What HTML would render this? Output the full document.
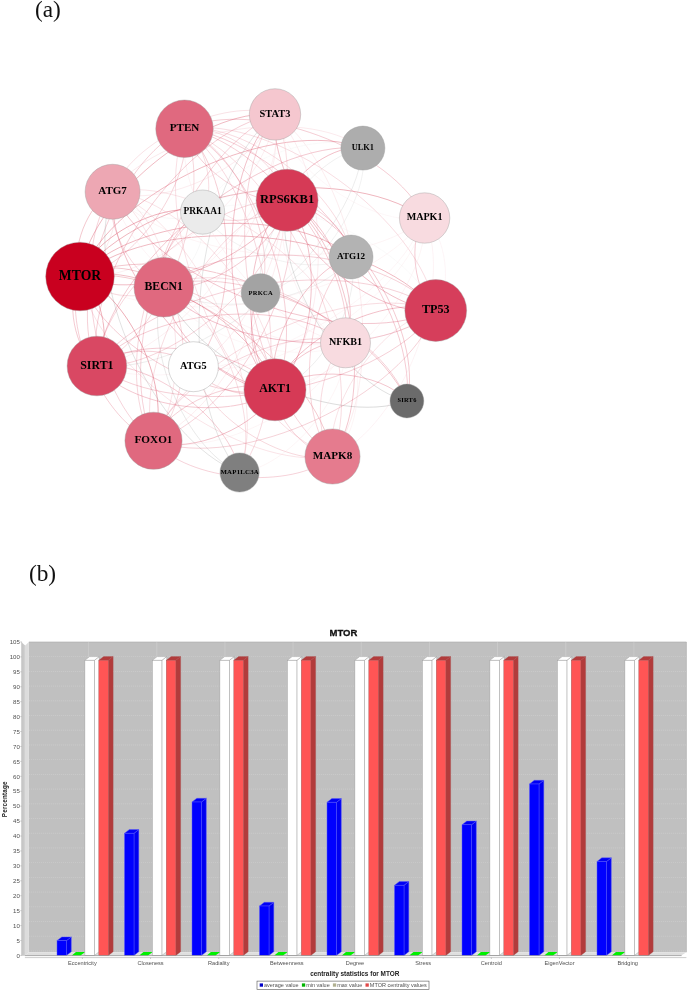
<!DOCTYPE html>
<html lang="en"><head><meta charset="utf-8"><title>MTOR network and centrality statistics</title>
<style>html,body{margin:0;padding:0;background:#fff}svg{display:block}.nl{font-family:"Liberation Serif", serif;font-weight:bold;fill:#000;text-anchor:middle}.sa{font-family:"Liberation Sans", sans-serif;fill:#505050}</style></head><body>
<svg width="688" height="992" viewBox="0 0 688 992">
<rect width="688" height="992" fill="#fff"/>
<text x="34.9" y="16.9" font-family='"Liberation Serif", serif' font-size="23.3" fill="#111">(a)</text>
<text x="28.9" y="580.6" font-family='"Liberation Serif", serif' font-size="23.3" fill="#111">(b)</text>
<g fill="none" stroke-width="0.5">
<path d="M184.5 128.8C193.6 181.7 133.0 267.4 80.0 276.5" stroke="rgba(224,105,127,0.57)"/>
<path d="M80.0 276.5C86.9 201.5 200.0 107.5 275.0 114.4" stroke="rgba(201,0,31,0.55)"/>
<path d="M275.0 114.4C268.1 189.4 155.0 283.4 80.0 276.5" stroke="rgba(245,199,207,0.55)"/>
<path d="M80.0 276.5C112.4 190.1 276.5 115.7 362.9 148.1" stroke="rgba(201,0,31,0.55)"/>
<path d="M80.0 276.5C69.0 251.9 88.0 202.7 112.6 191.8" stroke="rgba(201,0,31,0.44)"/>
<path d="M112.6 191.8C123.6 216.4 104.6 265.5 80.0 276.5" stroke="rgba(237,167,179,0.44)"/>
<path d="M80.0 276.5C92.2 237.2 163.3 199.9 202.6 212.1" stroke="rgba(201,0,31,0.63)"/>
<path d="M287.1 200.2C259.6 259.8 139.5 304.0 80.0 276.5" stroke="rgba(214,58,86,0.68)"/>
<path d="M80.0 276.5C140.1 191.8 339.9 157.9 424.6 218.0" stroke="rgba(201,0,31,0.58)"/>
<path d="M424.6 218.0C364.5 302.7 164.7 336.6 80.0 276.5" stroke="rgba(248,219,224,0.58)"/>
<path d="M80.0 276.5C132.8 215.5 290.1 204.2 351.1 257.0" stroke="rgba(201,0,31,0.56)"/>
<path d="M80.0 276.5C99.8 261.2 148.4 267.4 163.8 287.2" stroke="rgba(201,0,31,0.43)"/>
<path d="M163.8 287.2C143.9 302.6 95.3 296.3 80.0 276.5" stroke="rgba(224,105,127,0.43)"/>
<path d="M80.0 276.5C161.8 208.9 368.2 228.7 435.8 310.5" stroke="rgba(201,0,31,0.55)"/>
<path d="M80.0 276.5C102.3 291.7 112.1 343.7 96.9 366.0" stroke="rgba(201,0,31,0.59)"/>
<path d="M96.9 366.0C74.6 350.8 64.8 298.8 80.0 276.5" stroke="rgba(217,72,99,0.59)"/>
<path d="M193.4 366.7C150.6 371.6 84.9 319.3 80.0 276.5" stroke="rgba(255,255,255,0.68)"/>
<path d="M80.0 276.5C144.7 259.3 257.8 325.0 275.0 389.8" stroke="rgba(201,0,31,0.50)"/>
<path d="M275.0 389.8C210.3 406.9 97.2 341.2 80.0 276.5" stroke="rgba(214,58,86,0.50)"/>
<path d="M80.0 276.5C174.8 234.0 364.4 306.2 406.9 401.0" stroke="rgba(201,0,31,0.44)"/>
<path d="M80.0 276.5C129.9 295.6 172.6 390.8 153.5 440.8" stroke="rgba(201,0,31,0.64)"/>
<path d="M153.5 440.8C103.6 421.7 60.9 326.4 80.0 276.5" stroke="rgba(224,105,127,0.64)"/>
<path d="M80.0 276.5C170.8 261.3 317.3 365.7 332.5 456.5" stroke="rgba(201,0,31,0.42)"/>
<path d="M332.5 456.5C241.7 471.7 95.2 367.3 80.0 276.5" stroke="rgba(229,123,142,0.42)"/>
<path d="M184.5 128.8C205.8 142.5 216.3 190.8 202.6 212.1" stroke="rgba(224,105,127,0.44)"/>
<path d="M184.5 128.8C221.1 122.2 280.6 163.7 287.1 200.2" stroke="rgba(224,105,127,0.49)"/>
<path d="M287.1 200.2C250.5 206.8 191.0 165.3 184.5 128.8" stroke="rgba(214,58,86,0.49)"/>
<path d="M184.5 128.8C253.7 97.1 392.9 148.8 424.6 218.0" stroke="rgba(224,105,127,0.67)"/>
<path d="M184.5 128.8C246.4 120.7 343.0 195.1 351.1 257.0" stroke="rgba(224,105,127,0.48)"/>
<path d="M184.5 128.8C235.0 147.3 279.1 242.6 260.6 293.1" stroke="rgba(224,105,127,0.57)"/>
<path d="M184.5 128.8C275.4 114.2 421.2 219.6 435.8 310.5" stroke="rgba(224,105,127,0.45)"/>
<path d="M184.5 128.8C215.9 197.0 165.1 334.6 96.9 366.0" stroke="rgba(224,105,127,0.53)"/>
<path d="M96.9 366.0C65.5 297.8 116.3 160.2 184.5 128.8" stroke="rgba(217,72,99,0.53)"/>
<path d="M184.5 128.8C236.3 176.9 241.5 314.9 193.4 366.7" stroke="rgba(224,105,127,0.67)"/>
<path d="M184.5 128.8C263.3 139.9 356.6 264.0 345.5 342.8" stroke="rgba(224,105,127,0.65)"/>
<path d="M345.5 342.8C266.7 331.7 173.4 207.5 184.5 128.8" stroke="rgba(248,219,224,0.65)"/>
<path d="M184.5 128.8C258.3 164.6 310.8 315.9 275.0 389.8" stroke="rgba(224,105,127,0.64)"/>
<path d="M184.5 128.8C288.4 139.2 417.4 297.1 406.9 401.0" stroke="rgba(224,105,127,0.68)"/>
<path d="M184.5 128.8C268.3 189.4 300.2 388.7 239.6 472.5" stroke="rgba(224,105,127,0.50)"/>
<path d="M184.5 128.8C284.4 166.5 370.2 356.6 332.5 456.5" stroke="rgba(224,105,127,0.48)"/>
<path d="M332.5 456.5C232.6 418.8 146.8 228.7 184.5 128.8" stroke="rgba(229,123,142,0.48)"/>
<path d="M275.0 114.4C257.1 164.7 162.9 209.6 112.6 191.8" stroke="rgba(245,199,207,0.67)"/>
<path d="M112.6 191.8C130.5 141.4 224.7 96.5 275.0 114.4" stroke="rgba(237,167,179,0.67)"/>
<path d="M424.6 218.0C371.4 227.7 284.7 167.6 275.0 114.4" stroke="rgba(248,219,224,0.46)"/>
<path d="M275.0 114.4C287.9 174.1 223.4 274.3 163.8 287.2" stroke="rgba(245,199,207,0.47)"/>
<path d="M435.8 310.5C360.8 303.1 267.6 189.3 275.0 114.4" stroke="rgba(214,62,91,0.67)"/>
<path d="M275.0 114.4C290.4 204.6 187.1 350.6 96.9 366.0" stroke="rgba(245,199,207,0.53)"/>
<path d="M96.9 366.0C81.5 275.8 184.8 129.8 275.0 114.4" stroke="rgba(217,72,99,0.53)"/>
<path d="M275.0 114.4C310.8 184.5 263.5 330.9 193.4 366.7" stroke="rgba(245,199,207,0.67)"/>
<path d="M193.4 366.7C157.6 296.6 204.9 150.2 275.0 114.4" stroke="rgba(255,255,255,0.67)"/>
<path d="M275.0 114.4C332.8 172.2 332.8 331.9 275.0 389.8" stroke="rgba(245,199,207,0.63)"/>
<path d="M275.0 389.8C217.2 331.9 217.2 172.2 275.0 114.4" stroke="rgba(214,58,86,0.63)"/>
<path d="M275.0 114.4C318.0 208.4 247.5 397.7 153.5 440.8" stroke="rgba(245,199,207,0.61)"/>
<path d="M153.5 440.8C110.5 346.7 181.0 157.4 275.0 114.4" stroke="rgba(224,105,127,0.61)"/>
<path d="M239.6 472.5C171.8 389.9 192.4 182.2 275.0 114.4" stroke="rgba(127,127,127,0.42)"/>
<path d="M275.0 114.4C358.9 174.2 392.3 372.6 332.5 456.5" stroke="rgba(245,199,207,0.66)"/>
<path d="M332.5 456.5C248.6 396.7 215.2 198.3 275.0 114.4" stroke="rgba(229,123,142,0.66)"/>
<path d="M112.6 191.8C156.0 130.0 301.2 104.7 362.9 148.1" stroke="rgba(237,167,179,0.49)"/>
<path d="M202.6 212.1C222.8 165.0 315.8 127.9 362.9 148.1" stroke="rgba(235,235,235,0.52)"/>
<path d="M287.1 200.2C292.1 173.4 336.0 143.1 362.9 148.1" stroke="rgba(214,58,86,0.65)"/>
<path d="M362.9 148.1C371.9 200.0 312.5 284.1 260.6 293.1" stroke="rgba(173,173,173,0.32)"/>
<path d="M260.6 293.1C251.6 241.2 311.0 157.1 362.9 148.1" stroke="rgba(163,163,163,0.32)"/>
<path d="M362.9 148.1C352.8 249.7 198.5 376.1 96.9 366.0" stroke="rgba(173,173,173,0.44)"/>
<path d="M96.9 366.0C107.0 264.4 261.3 138.0 362.9 148.1" stroke="rgba(217,72,99,0.59)"/>
<path d="M193.4 366.7C183.1 285.2 281.4 158.4 362.9 148.1" stroke="rgba(255,255,255,0.68)"/>
<path d="M202.6 212.1C179.4 226.7 127.2 214.9 112.6 191.8" stroke="rgba(235,235,235,0.60)"/>
<path d="M424.6 218.0C353.6 278.0 172.6 262.8 112.6 191.8" stroke="rgba(248,219,224,0.63)"/>
<path d="M112.6 191.8C143.4 201.1 173.1 256.5 163.8 287.2" stroke="rgba(237,167,179,0.52)"/>
<path d="M163.8 287.2C133.0 277.9 103.3 222.5 112.6 191.8" stroke="rgba(224,105,127,0.52)"/>
<path d="M435.8 310.5C343.0 353.4 155.5 284.5 112.6 191.8" stroke="rgba(214,62,91,0.59)"/>
<path d="M112.6 191.8C193.2 174.6 328.3 262.2 345.5 342.8" stroke="rgba(237,167,179,0.61)"/>
<path d="M345.5 342.8C264.9 360.0 129.8 272.4 112.6 191.8" stroke="rgba(248,219,224,0.61)"/>
<path d="M112.6 191.8C188.3 199.2 282.5 314.1 275.0 389.8" stroke="rgba(237,167,179,0.64)"/>
<path d="M275.0 389.8C199.3 382.3 105.1 267.4 112.6 191.8" stroke="rgba(214,58,86,0.64)"/>
<path d="M112.6 191.8C173.5 235.5 197.2 379.9 153.5 440.8" stroke="rgba(237,167,179,0.58)"/>
<path d="M153.5 440.8C92.6 397.0 68.9 252.6 112.6 191.8" stroke="rgba(224,105,127,0.58)"/>
<path d="M112.6 191.8C198.2 224.0 271.9 386.9 239.6 472.5" stroke="rgba(237,167,179,0.60)"/>
<path d="M239.6 472.5C154.0 440.2 80.3 277.4 112.6 191.8" stroke="rgba(127,127,127,0.45)"/>
<path d="M202.6 212.1C217.9 191.9 266.9 185.0 287.1 200.2" stroke="rgba(235,235,235,0.42)"/>
<path d="M287.1 200.2C271.8 220.5 222.8 227.4 202.6 212.1" stroke="rgba(214,58,86,0.42)"/>
<path d="M351.1 257.0C310.5 278.8 224.4 252.7 202.6 212.1" stroke="rgba(179,179,179,0.35)"/>
<path d="M202.6 212.1C210.2 236.0 187.7 279.6 163.8 287.2" stroke="rgba(235,235,235,0.65)"/>
<path d="M163.8 287.2C156.1 263.3 178.7 219.7 202.6 212.1" stroke="rgba(224,105,127,0.65)"/>
<path d="M202.6 212.1C272.2 183.8 407.5 240.9 435.8 310.5" stroke="rgba(235,235,235,0.53)"/>
<path d="M153.5 440.8C115.8 382.4 144.3 249.8 202.6 212.1" stroke="rgba(224,105,127,0.55)"/>
<path d="M287.1 200.2C312.5 198.7 349.6 231.6 351.1 257.0" stroke="rgba(214,58,86,0.46)"/>
<path d="M287.1 200.2C279.5 244.4 207.9 294.9 163.8 287.2" stroke="rgba(214,58,86,0.53)"/>
<path d="M435.8 310.5C381.4 318.6 295.2 254.6 287.1 200.2" stroke="rgba(214,62,91,0.64)"/>
<path d="M287.1 200.2C282.0 275.0 171.6 371.1 96.9 366.0" stroke="rgba(214,58,86,0.44)"/>
<path d="M96.9 366.0C102.0 291.3 212.4 195.1 287.1 200.2" stroke="rgba(217,72,99,0.44)"/>
<path d="M287.1 200.2C329.3 217.9 363.2 300.6 345.5 342.8" stroke="rgba(214,58,86,0.60)"/>
<path d="M345.5 342.8C303.3 325.1 269.4 242.4 287.1 200.2" stroke="rgba(248,219,224,0.60)"/>
<path d="M287.1 200.2C324.4 242.6 317.3 352.5 275.0 389.8" stroke="rgba(214,58,86,0.63)"/>
<path d="M275.0 389.8C237.7 347.4 244.8 237.5 287.1 200.2" stroke="rgba(214,58,86,0.63)"/>
<path d="M287.1 200.2C354.4 217.2 423.9 333.7 406.9 401.0" stroke="rgba(214,58,86,0.54)"/>
<path d="M406.9 401.0C339.6 384.0 270.1 267.6 287.1 200.2" stroke="rgba(107,107,107,0.40)"/>
<path d="M287.1 200.2C309.5 278.8 232.1 418.3 153.5 440.8" stroke="rgba(214,58,86,0.46)"/>
<path d="M153.5 440.8C131.1 362.2 208.5 222.7 287.1 200.2" stroke="rgba(224,105,127,0.46)"/>
<path d="M287.1 200.2C350.4 244.5 376.8 393.2 332.5 456.5" stroke="rgba(214,58,86,0.58)"/>
<path d="M424.6 218.0C446.4 235.1 452.8 288.7 435.8 310.5" stroke="rgba(248,219,224,0.54)"/>
<path d="M435.8 310.5C414.0 293.4 407.5 239.8 424.6 218.0" stroke="rgba(214,62,91,0.54)"/>
<path d="M424.6 218.0C386.9 317.9 196.8 403.7 96.9 366.0" stroke="rgba(248,219,224,0.54)"/>
<path d="M424.6 218.0C407.3 297.8 273.2 384.0 193.4 366.7" stroke="rgba(248,219,224,0.49)"/>
<path d="M193.4 366.7C210.7 286.9 344.8 200.7 424.6 218.0" stroke="rgba(255,255,255,0.49)"/>
<path d="M424.6 218.0C429.3 285.5 342.5 385.1 275.0 389.8" stroke="rgba(248,219,224,0.58)"/>
<path d="M424.6 218.0C455.3 287.4 401.9 425.8 332.5 456.5" stroke="rgba(248,219,224,0.66)"/>
<path d="M351.1 257.0C318.1 302.7 209.4 320.2 163.8 287.2" stroke="rgba(179,179,179,0.40)"/>
<path d="M351.1 257.0C363.0 300.9 318.9 377.9 275.0 389.8" stroke="rgba(179,179,179,0.44)"/>
<path d="M275.0 389.8C263.1 345.9 307.2 268.9 351.1 257.0" stroke="rgba(214,58,86,0.59)"/>
<path d="M332.5 456.5C294.5 410.7 305.3 295.0 351.1 257.0" stroke="rgba(229,123,142,0.65)"/>
<path d="M163.8 287.2C225.8 235.0 383.5 248.5 435.8 310.5" stroke="rgba(224,105,127,0.63)"/>
<path d="M435.8 310.5C373.7 362.7 216.0 349.3 163.8 287.2" stroke="rgba(214,62,91,0.63)"/>
<path d="M163.8 287.2C213.6 260.7 319.0 293.0 345.5 342.8" stroke="rgba(224,105,127,0.44)"/>
<path d="M345.5 342.8C295.7 369.3 190.3 337.1 163.8 287.2" stroke="rgba(248,219,224,0.44)"/>
<path d="M163.8 287.2C208.6 285.4 273.2 344.9 275.0 389.8" stroke="rgba(224,105,127,0.62)"/>
<path d="M275.0 389.8C230.1 391.6 165.6 332.1 163.8 287.2" stroke="rgba(214,58,86,0.62)"/>
<path d="M163.8 287.2C238.7 260.1 379.7 326.1 406.9 401.0" stroke="rgba(224,105,127,0.63)"/>
<path d="M406.9 401.0C332.0 428.2 190.9 362.2 163.8 287.2" stroke="rgba(107,107,107,0.47)"/>
<path d="M163.8 287.2C193.8 321.6 187.9 410.7 153.5 440.8" stroke="rgba(224,105,127,0.51)"/>
<path d="M163.8 287.2C218.6 310.2 262.6 417.7 239.6 472.5" stroke="rgba(224,105,127,0.46)"/>
<path d="M239.6 472.5C184.8 449.5 140.8 342.1 163.8 287.2" stroke="rgba(127,127,127,0.34)"/>
<path d="M275.0 389.8C251.7 372.5 243.3 316.4 260.6 293.1" stroke="rgba(214,58,86,0.48)"/>
<path d="M435.8 310.5C376.2 393.3 179.7 425.5 96.9 366.0" stroke="rgba(214,62,91,0.50)"/>
<path d="M96.9 366.0C156.4 283.2 352.9 251.0 435.8 310.5" stroke="rgba(217,72,99,0.50)"/>
<path d="M275.0 389.8C292.1 339.4 385.4 293.4 435.8 310.5" stroke="rgba(214,58,86,0.64)"/>
<path d="M435.8 310.5C403.8 397.1 240.1 472.7 153.5 440.8" stroke="rgba(214,62,91,0.47)"/>
<path d="M153.5 440.8C185.4 354.1 349.1 278.6 435.8 310.5" stroke="rgba(224,105,127,0.47)"/>
<path d="M332.5 456.5C323.5 404.2 383.4 319.5 435.8 310.5" stroke="rgba(229,123,142,0.43)"/>
<path d="M96.9 366.0C117.3 345.9 173.3 346.3 193.4 366.7" stroke="rgba(217,72,99,0.52)"/>
<path d="M96.9 366.0C144.2 308.9 288.4 295.5 345.5 342.8" stroke="rgba(217,72,99,0.55)"/>
<path d="M96.9 366.0C139.3 333.6 242.6 347.4 275.0 389.8" stroke="rgba(217,72,99,0.56)"/>
<path d="M275.0 389.8C232.6 422.2 129.3 408.4 96.9 366.0" stroke="rgba(214,58,86,0.56)"/>
<path d="M96.9 366.0C149.2 358.4 232.0 420.2 239.6 472.5" stroke="rgba(217,72,99,0.54)"/>
<path d="M193.4 366.7C215.4 354.4 262.7 367.8 275.0 389.8" stroke="rgba(255,255,255,0.50)"/>
<path d="M275.0 389.8C253.0 402.0 205.7 388.7 193.4 366.7" stroke="rgba(214,58,86,0.50)"/>
<path d="M193.4 366.7C225.3 379.2 252.1 440.6 239.6 472.5" stroke="rgba(255,255,255,0.62)"/>
<path d="M193.4 366.7C241.5 356.3 322.1 408.4 332.5 456.5" stroke="rgba(255,255,255,0.60)"/>
<path d="M332.5 456.5C284.4 466.9 203.8 414.8 193.4 366.7" stroke="rgba(229,123,142,0.60)"/>
<path d="M345.5 342.8C340.6 367.5 299.7 394.7 275.0 389.8" stroke="rgba(248,219,224,0.58)"/>
<path d="M275.0 389.8C279.9 365.1 320.8 337.9 345.5 342.8" stroke="rgba(214,58,86,0.58)"/>
<path d="M345.5 342.8C325.7 403.7 214.4 460.5 153.5 440.8" stroke="rgba(248,219,224,0.55)"/>
<path d="M153.5 440.8C173.3 379.9 284.6 323.0 345.5 342.8" stroke="rgba(224,105,127,0.55)"/>
<path d="M345.5 342.8C350.5 392.3 289.1 467.5 239.6 472.5" stroke="rgba(248,219,224,0.56)"/>
<path d="M345.5 342.8C366.6 369.4 359.1 435.4 332.5 456.5" stroke="rgba(248,219,224,0.56)"/>
<path d="M332.5 456.5C311.4 429.9 318.9 363.9 345.5 342.8" stroke="rgba(229,123,142,0.56)"/>
<path d="M275.0 389.8C305.1 364.4 381.6 370.9 406.9 401.0" stroke="rgba(214,58,86,0.58)"/>
<path d="M275.0 389.8C260.2 426.0 189.7 455.6 153.5 440.8" stroke="rgba(214,58,86,0.64)"/>
<path d="M153.5 440.8C168.3 404.5 238.8 374.9 275.0 389.8" stroke="rgba(224,105,127,0.64)"/>
<path d="M332.5 456.5C306.4 454.6 273.1 415.8 275.0 389.8" stroke="rgba(229,123,142,0.61)"/>
<path d="M332.5 456.5C291.6 490.8 187.8 481.6 153.5 440.8" stroke="rgba(229,123,142,0.68)"/>
</g>
<g>
<circle cx="80.00" cy="276.50" r="34.30" fill="#c9001f" stroke="#999" stroke-width="0.4"/>
<circle cx="184.50" cy="128.75" r="28.75" fill="#e0697f" stroke="#999" stroke-width="0.4"/>
<circle cx="275.00" cy="114.40" r="25.70" fill="#f5c7cf" stroke="#999" stroke-width="0.4"/>
<circle cx="362.90" cy="148.10" r="22.00" fill="#adadad" stroke="#999" stroke-width="0.4"/>
<circle cx="112.60" cy="191.75" r="27.50" fill="#eda7b3" stroke="#999" stroke-width="0.4"/>
<circle cx="202.60" cy="212.10" r="22.10" fill="#ebebeb" stroke="#999" stroke-width="0.4"/>
<circle cx="287.10" cy="200.25" r="31.00" fill="#d63a56" stroke="#999" stroke-width="0.4"/>
<circle cx="424.60" cy="218.00" r="25.20" fill="#f8dbe0" stroke="#999" stroke-width="0.4"/>
<circle cx="351.10" cy="257.00" r="21.90" fill="#b3b3b3" stroke="#999" stroke-width="0.4"/>
<circle cx="163.75" cy="287.25" r="29.75" fill="#e0697f" stroke="#999" stroke-width="0.4"/>
<circle cx="260.60" cy="293.10" r="19.40" fill="#a3a3a3" stroke="#999" stroke-width="0.4"/>
<circle cx="435.75" cy="310.50" r="30.90" fill="#d63e5b" stroke="#999" stroke-width="0.4"/>
<circle cx="96.90" cy="366.00" r="29.80" fill="#d94863" stroke="#999" stroke-width="0.4"/>
<circle cx="193.40" cy="366.70" r="25.00" fill="#ffffff" stroke="#999" stroke-width="0.4"/>
<circle cx="345.50" cy="342.80" r="25.00" fill="#f8dbe0" stroke="#999" stroke-width="0.4"/>
<circle cx="275.00" cy="389.75" r="31.00" fill="#d63a56" stroke="#999" stroke-width="0.4"/>
<circle cx="406.90" cy="401.00" r="16.90" fill="#6b6b6b" stroke="#999" stroke-width="0.4"/>
<circle cx="153.50" cy="440.75" r="28.60" fill="#e0697f" stroke="#999" stroke-width="0.4"/>
<circle cx="239.60" cy="472.50" r="19.60" fill="#7f7f7f" stroke="#999" stroke-width="0.4"/>
<circle cx="332.50" cy="456.50" r="27.60" fill="#e57b8e" stroke="#999" stroke-width="0.4"/>
<text class="nl" x="80.00" y="279.64" font-size="13.7">MTOR</text>
<text class="nl" x="184.50" y="131.29" font-size="11.1">PTEN</text>
<text class="nl" x="275.00" y="116.79" font-size="10.4">STAT3</text>
<text class="nl" x="362.90" y="150.04" font-size="8.4">ULK1</text>
<text class="nl" x="112.60" y="194.28" font-size="11.0">ATG7</text>
<text class="nl" x="202.60" y="214.25" font-size="9.4">PRKAA1</text>
<text class="nl" x="287.10" y="203.13" font-size="12.5">RPS6KB1</text>
<text class="nl" x="424.60" y="220.32" font-size="10.1">MAPK1</text>
<text class="nl" x="351.10" y="259.08" font-size="9.1">ATG12</text>
<text class="nl" x="163.75" y="289.93" font-size="11.7">BECN1</text>
<text class="nl" x="260.72" y="294.57" font-size="6.5" letter-spacing="0.25">PRKCA</text>
<text class="nl" x="435.75" y="313.27" font-size="12.1">TP53</text>
<text class="nl" x="96.90" y="368.73" font-size="11.9">SIRT1</text>
<text class="nl" x="193.40" y="369.08" font-size="10.3">ATG5</text>
<text class="nl" x="345.50" y="345.13" font-size="10.1">NFKB1</text>
<text class="nl" x="275.00" y="392.48" font-size="11.9">AKT1</text>
<text class="nl" x="407.02" y="402.44" font-size="6.4" letter-spacing="0.25">SIRT6</text>
<text class="nl" x="153.50" y="443.33" font-size="11.2">FOXO1</text>
<text class="nl" x="239.72" y="474.04" font-size="6.8" letter-spacing="0.25">MAP1LC3A</text>
<text class="nl" x="332.50" y="459.06" font-size="11.1">MAPK8</text>
</g>
<g shape-rendering="auto">
<polygon points="21.7,642.6 24.9,645.2 24.9,955.8 21.7,955.8" fill="#c9c9c9"/>
<rect x="28.9" y="642.0" width="657.5" height="310.2" fill="#c0c0c0"/>
<polygon points="24.9,645.7 28.9,642.0 28.9,952.2 24.9,955.4" fill="#dcdcdc"/>
<polygon points="24.9,955.4 28.9,952.2 686.4,952.2 681.3,955.4" fill="#dedede"/>
<path d="M28.9 642.0H686.4V952.2" fill="none" stroke="#a8a8a8" stroke-width="0.6"/>
<line x1="28.9" y1="950.91" x2="686.4" y2="950.91" stroke="#e4e4e4" stroke-width="0.6" stroke-dasharray="1 1" opacity="0.5"/>
<line x1="28.9" y1="936.20" x2="686.4" y2="936.20" stroke="#e4e4e4" stroke-width="0.6" stroke-dasharray="1 1" opacity="0.5"/>
<line x1="28.9" y1="921.49" x2="686.4" y2="921.49" stroke="#e4e4e4" stroke-width="0.6" stroke-dasharray="1 1" opacity="0.5"/>
<line x1="28.9" y1="906.78" x2="686.4" y2="906.78" stroke="#e4e4e4" stroke-width="0.6" stroke-dasharray="1 1" opacity="0.5"/>
<line x1="28.9" y1="892.07" x2="686.4" y2="892.07" stroke="#e4e4e4" stroke-width="0.6" stroke-dasharray="1 1" opacity="0.5"/>
<line x1="28.9" y1="877.36" x2="686.4" y2="877.36" stroke="#e4e4e4" stroke-width="0.6" stroke-dasharray="1 1" opacity="0.5"/>
<line x1="28.9" y1="862.65" x2="686.4" y2="862.65" stroke="#e4e4e4" stroke-width="0.6" stroke-dasharray="1 1" opacity="0.5"/>
<line x1="28.9" y1="847.94" x2="686.4" y2="847.94" stroke="#e4e4e4" stroke-width="0.6" stroke-dasharray="1 1" opacity="0.5"/>
<line x1="28.9" y1="833.23" x2="686.4" y2="833.23" stroke="#e4e4e4" stroke-width="0.6" stroke-dasharray="1 1" opacity="0.5"/>
<line x1="28.9" y1="818.52" x2="686.4" y2="818.52" stroke="#e4e4e4" stroke-width="0.6" stroke-dasharray="1 1" opacity="0.5"/>
<line x1="28.9" y1="803.81" x2="686.4" y2="803.81" stroke="#e4e4e4" stroke-width="0.6" stroke-dasharray="1 1" opacity="0.5"/>
<line x1="28.9" y1="789.09" x2="686.4" y2="789.09" stroke="#e4e4e4" stroke-width="0.6" stroke-dasharray="1 1" opacity="0.5"/>
<line x1="28.9" y1="774.38" x2="686.4" y2="774.38" stroke="#e4e4e4" stroke-width="0.6" stroke-dasharray="1 1" opacity="0.5"/>
<line x1="28.9" y1="759.67" x2="686.4" y2="759.67" stroke="#e4e4e4" stroke-width="0.6" stroke-dasharray="1 1" opacity="0.5"/>
<line x1="28.9" y1="744.96" x2="686.4" y2="744.96" stroke="#e4e4e4" stroke-width="0.6" stroke-dasharray="1 1" opacity="0.5"/>
<line x1="28.9" y1="730.25" x2="686.4" y2="730.25" stroke="#e4e4e4" stroke-width="0.6" stroke-dasharray="1 1" opacity="0.5"/>
<line x1="28.9" y1="715.54" x2="686.4" y2="715.54" stroke="#e4e4e4" stroke-width="0.6" stroke-dasharray="1 1" opacity="0.5"/>
<line x1="28.9" y1="700.83" x2="686.4" y2="700.83" stroke="#e4e4e4" stroke-width="0.6" stroke-dasharray="1 1" opacity="0.5"/>
<line x1="28.9" y1="686.12" x2="686.4" y2="686.12" stroke="#e4e4e4" stroke-width="0.6" stroke-dasharray="1 1" opacity="0.5"/>
<line x1="28.9" y1="671.41" x2="686.4" y2="671.41" stroke="#e4e4e4" stroke-width="0.6" stroke-dasharray="1 1" opacity="0.5"/>
<line x1="28.9" y1="656.70" x2="686.4" y2="656.70" stroke="#e4e4e4" stroke-width="0.6" stroke-dasharray="1 1" opacity="0.5"/>
<line x1="88.60" y1="642.0" x2="88.60" y2="952.2" stroke="#dcdcdc" stroke-width="0.6" opacity="0.6"/>
<line x1="156.76" y1="642.0" x2="156.76" y2="952.2" stroke="#dcdcdc" stroke-width="0.6" opacity="0.6"/>
<line x1="224.92" y1="642.0" x2="224.92" y2="952.2" stroke="#dcdcdc" stroke-width="0.6" opacity="0.6"/>
<line x1="293.08" y1="642.0" x2="293.08" y2="952.2" stroke="#dcdcdc" stroke-width="0.6" opacity="0.6"/>
<line x1="361.24" y1="642.0" x2="361.24" y2="952.2" stroke="#dcdcdc" stroke-width="0.6" opacity="0.6"/>
<line x1="429.40" y1="642.0" x2="429.40" y2="952.2" stroke="#dcdcdc" stroke-width="0.6" opacity="0.6"/>
<line x1="497.56" y1="642.0" x2="497.56" y2="952.2" stroke="#dcdcdc" stroke-width="0.6" opacity="0.6"/>
<line x1="565.72" y1="642.0" x2="565.72" y2="952.2" stroke="#dcdcdc" stroke-width="0.6" opacity="0.6"/>
<line x1="633.88" y1="642.0" x2="633.88" y2="952.2" stroke="#dcdcdc" stroke-width="0.6" opacity="0.6"/>
<text class="sa" x="19.8" y="957.65" font-size="6.1" text-anchor="end">0</text>
<line x1="20.4" y1="955.45" x2="21.6" y2="955.45" stroke="#808080" stroke-width="0.5"/>
<text class="sa" x="19.8" y="942.72" font-size="6.1" text-anchor="end">5</text>
<line x1="20.4" y1="940.52" x2="21.6" y2="940.52" stroke="#808080" stroke-width="0.5"/>
<text class="sa" x="19.8" y="927.80" font-size="6.1" text-anchor="end">10</text>
<line x1="20.4" y1="925.60" x2="21.6" y2="925.60" stroke="#808080" stroke-width="0.5"/>
<text class="sa" x="19.8" y="912.87" font-size="6.1" text-anchor="end">15</text>
<line x1="20.4" y1="910.67" x2="21.6" y2="910.67" stroke="#808080" stroke-width="0.5"/>
<text class="sa" x="19.8" y="897.94" font-size="6.1" text-anchor="end">20</text>
<line x1="20.4" y1="895.74" x2="21.6" y2="895.74" stroke="#808080" stroke-width="0.5"/>
<text class="sa" x="19.8" y="883.01" font-size="6.1" text-anchor="end">25</text>
<line x1="20.4" y1="880.81" x2="21.6" y2="880.81" stroke="#808080" stroke-width="0.5"/>
<text class="sa" x="19.8" y="868.09" font-size="6.1" text-anchor="end">30</text>
<line x1="20.4" y1="865.88" x2="21.6" y2="865.88" stroke="#808080" stroke-width="0.5"/>
<text class="sa" x="19.8" y="853.16" font-size="6.1" text-anchor="end">35</text>
<line x1="20.4" y1="850.96" x2="21.6" y2="850.96" stroke="#808080" stroke-width="0.5"/>
<text class="sa" x="19.8" y="838.23" font-size="6.1" text-anchor="end">40</text>
<line x1="20.4" y1="836.03" x2="21.6" y2="836.03" stroke="#808080" stroke-width="0.5"/>
<text class="sa" x="19.8" y="823.30" font-size="6.1" text-anchor="end">45</text>
<line x1="20.4" y1="821.10" x2="21.6" y2="821.10" stroke="#808080" stroke-width="0.5"/>
<text class="sa" x="19.8" y="808.38" font-size="6.1" text-anchor="end">50</text>
<line x1="20.4" y1="806.17" x2="21.6" y2="806.17" stroke="#808080" stroke-width="0.5"/>
<text class="sa" x="19.8" y="793.45" font-size="6.1" text-anchor="end">55</text>
<line x1="20.4" y1="791.25" x2="21.6" y2="791.25" stroke="#808080" stroke-width="0.5"/>
<text class="sa" x="19.8" y="778.52" font-size="6.1" text-anchor="end">60</text>
<line x1="20.4" y1="776.32" x2="21.6" y2="776.32" stroke="#808080" stroke-width="0.5"/>
<text class="sa" x="19.8" y="763.59" font-size="6.1" text-anchor="end">65</text>
<line x1="20.4" y1="761.39" x2="21.6" y2="761.39" stroke="#808080" stroke-width="0.5"/>
<text class="sa" x="19.8" y="748.67" font-size="6.1" text-anchor="end">70</text>
<line x1="20.4" y1="746.47" x2="21.6" y2="746.47" stroke="#808080" stroke-width="0.5"/>
<text class="sa" x="19.8" y="733.74" font-size="6.1" text-anchor="end">75</text>
<line x1="20.4" y1="731.54" x2="21.6" y2="731.54" stroke="#808080" stroke-width="0.5"/>
<text class="sa" x="19.8" y="718.81" font-size="6.1" text-anchor="end">80</text>
<line x1="20.4" y1="716.61" x2="21.6" y2="716.61" stroke="#808080" stroke-width="0.5"/>
<text class="sa" x="19.8" y="703.88" font-size="6.1" text-anchor="end">85</text>
<line x1="20.4" y1="701.68" x2="21.6" y2="701.68" stroke="#808080" stroke-width="0.5"/>
<text class="sa" x="19.8" y="688.96" font-size="6.1" text-anchor="end">90</text>
<line x1="20.4" y1="686.75" x2="21.6" y2="686.75" stroke="#808080" stroke-width="0.5"/>
<text class="sa" x="19.8" y="674.03" font-size="6.1" text-anchor="end">95</text>
<line x1="20.4" y1="671.83" x2="21.6" y2="671.83" stroke="#808080" stroke-width="0.5"/>
<text class="sa" x="19.8" y="659.10" font-size="6.1" text-anchor="end">100</text>
<line x1="20.4" y1="656.90" x2="21.6" y2="656.90" stroke="#808080" stroke-width="0.5"/>
<text class="sa" x="19.8" y="644.17" font-size="6.1" text-anchor="end">105</text>
<line x1="20.4" y1="641.97" x2="21.6" y2="641.97" stroke="#808080" stroke-width="0.5"/>
<line x1="21.7" y1="641.8" x2="21.7" y2="955.7" stroke="#b4b4b4" stroke-width="0.6"/>
<polygon points="66.50,940.60 71.30,936.90 71.30,951.70 66.50,955.40" fill="#0000f0" stroke="#5a5aff" stroke-width="0.45" stroke-linejoin="round"/>
<polygon points="57.00,940.60 61.80,936.90 71.30,936.90 66.50,940.60" fill="#0000f4" stroke="#5a5aff" stroke-width="0.45" stroke-linejoin="round"/>
<rect x="57.00" y="940.60" width="9.50" height="14.80" fill="#0000ff" stroke="#5a5aff" stroke-width="0.45"/>
<polygon points="71.75,955.40 75.95,951.90 85.25,951.90 80.45,955.40" fill="#00f000"/>
<polygon points="94.40,660.30 99.20,656.60 99.20,951.70 94.40,955.40" fill="#ffffff" stroke="#9c9c9c" stroke-width="0.45" stroke-linejoin="round"/>
<polygon points="84.90,660.30 89.70,656.60 99.20,656.60 94.40,660.30" fill="#ffffff" stroke="#9c9c9c" stroke-width="0.45" stroke-linejoin="round"/>
<rect x="84.90" y="660.30" width="9.50" height="295.10" fill="#ffffff" stroke="#9c9c9c" stroke-width="0.45"/>
<polygon points="108.35,660.30 113.15,656.60 113.15,951.70 108.35,955.40" fill="#b23b3b" stroke="#a85050" stroke-width="0.35" stroke-linejoin="round"/>
<polygon points="98.85,660.30 103.65,656.60 113.15,656.60 108.35,660.30" fill="#b23b3b" stroke="#a85050" stroke-width="0.35" stroke-linejoin="round"/>
<rect x="98.85" y="660.30" width="9.50" height="295.10" fill="#ff5555" stroke="#a85050" stroke-width="0.35"/>
<polygon points="134.00,833.30 138.80,829.60 138.80,951.70 134.00,955.40" fill="#0000f0" stroke="#5a5aff" stroke-width="0.45" stroke-linejoin="round"/>
<polygon points="124.50,833.30 129.30,829.60 138.80,829.60 134.00,833.30" fill="#0000f4" stroke="#5a5aff" stroke-width="0.45" stroke-linejoin="round"/>
<rect x="124.50" y="833.30" width="9.50" height="122.10" fill="#0000ff" stroke="#5a5aff" stroke-width="0.45"/>
<polygon points="139.25,955.40 143.45,951.90 152.75,951.90 147.95,955.40" fill="#00f000"/>
<polygon points="161.90,660.30 166.70,656.60 166.70,951.70 161.90,955.40" fill="#ffffff" stroke="#9c9c9c" stroke-width="0.45" stroke-linejoin="round"/>
<polygon points="152.40,660.30 157.20,656.60 166.70,656.60 161.90,660.30" fill="#ffffff" stroke="#9c9c9c" stroke-width="0.45" stroke-linejoin="round"/>
<rect x="152.40" y="660.30" width="9.50" height="295.10" fill="#ffffff" stroke="#9c9c9c" stroke-width="0.45"/>
<polygon points="175.85,660.30 180.65,656.60 180.65,951.70 175.85,955.40" fill="#b23b3b" stroke="#a85050" stroke-width="0.35" stroke-linejoin="round"/>
<polygon points="166.35,660.30 171.15,656.60 180.65,656.60 175.85,660.30" fill="#b23b3b" stroke="#a85050" stroke-width="0.35" stroke-linejoin="round"/>
<rect x="166.35" y="660.30" width="9.50" height="295.10" fill="#ff5555" stroke="#a85050" stroke-width="0.35"/>
<polygon points="201.50,802.00 206.30,798.30 206.30,951.70 201.50,955.40" fill="#0000f0" stroke="#5a5aff" stroke-width="0.45" stroke-linejoin="round"/>
<polygon points="192.00,802.00 196.80,798.30 206.30,798.30 201.50,802.00" fill="#0000f4" stroke="#5a5aff" stroke-width="0.45" stroke-linejoin="round"/>
<rect x="192.00" y="802.00" width="9.50" height="153.40" fill="#0000ff" stroke="#5a5aff" stroke-width="0.45"/>
<polygon points="206.75,955.40 210.95,951.90 220.25,951.90 215.45,955.40" fill="#00f000"/>
<polygon points="229.40,660.30 234.20,656.60 234.20,951.70 229.40,955.40" fill="#ffffff" stroke="#9c9c9c" stroke-width="0.45" stroke-linejoin="round"/>
<polygon points="219.90,660.30 224.70,656.60 234.20,656.60 229.40,660.30" fill="#ffffff" stroke="#9c9c9c" stroke-width="0.45" stroke-linejoin="round"/>
<rect x="219.90" y="660.30" width="9.50" height="295.10" fill="#ffffff" stroke="#9c9c9c" stroke-width="0.45"/>
<polygon points="243.35,660.30 248.15,656.60 248.15,951.70 243.35,955.40" fill="#b23b3b" stroke="#a85050" stroke-width="0.35" stroke-linejoin="round"/>
<polygon points="233.85,660.30 238.65,656.60 248.15,656.60 243.35,660.30" fill="#b23b3b" stroke="#a85050" stroke-width="0.35" stroke-linejoin="round"/>
<rect x="233.85" y="660.30" width="9.50" height="295.10" fill="#ff5555" stroke="#a85050" stroke-width="0.35"/>
<polygon points="269.00,906.00 273.80,902.30 273.80,951.70 269.00,955.40" fill="#0000f0" stroke="#5a5aff" stroke-width="0.45" stroke-linejoin="round"/>
<polygon points="259.50,906.00 264.30,902.30 273.80,902.30 269.00,906.00" fill="#0000f4" stroke="#5a5aff" stroke-width="0.45" stroke-linejoin="round"/>
<rect x="259.50" y="906.00" width="9.50" height="49.40" fill="#0000ff" stroke="#5a5aff" stroke-width="0.45"/>
<polygon points="274.25,955.40 278.45,951.90 287.75,951.90 282.95,955.40" fill="#00f000"/>
<polygon points="296.90,660.30 301.70,656.60 301.70,951.70 296.90,955.40" fill="#ffffff" stroke="#9c9c9c" stroke-width="0.45" stroke-linejoin="round"/>
<polygon points="287.40,660.30 292.20,656.60 301.70,656.60 296.90,660.30" fill="#ffffff" stroke="#9c9c9c" stroke-width="0.45" stroke-linejoin="round"/>
<rect x="287.40" y="660.30" width="9.50" height="295.10" fill="#ffffff" stroke="#9c9c9c" stroke-width="0.45"/>
<polygon points="310.85,660.30 315.65,656.60 315.65,951.70 310.85,955.40" fill="#b23b3b" stroke="#a85050" stroke-width="0.35" stroke-linejoin="round"/>
<polygon points="301.35,660.30 306.15,656.60 315.65,656.60 310.85,660.30" fill="#b23b3b" stroke="#a85050" stroke-width="0.35" stroke-linejoin="round"/>
<rect x="301.35" y="660.30" width="9.50" height="295.10" fill="#ff5555" stroke="#a85050" stroke-width="0.35"/>
<polygon points="336.50,802.30 341.30,798.60 341.30,951.70 336.50,955.40" fill="#0000f0" stroke="#5a5aff" stroke-width="0.45" stroke-linejoin="round"/>
<polygon points="327.00,802.30 331.80,798.60 341.30,798.60 336.50,802.30" fill="#0000f4" stroke="#5a5aff" stroke-width="0.45" stroke-linejoin="round"/>
<rect x="327.00" y="802.30" width="9.50" height="153.10" fill="#0000ff" stroke="#5a5aff" stroke-width="0.45"/>
<polygon points="341.75,955.40 345.95,951.90 355.25,951.90 350.45,955.40" fill="#00f000"/>
<polygon points="364.40,660.30 369.20,656.60 369.20,951.70 364.40,955.40" fill="#ffffff" stroke="#9c9c9c" stroke-width="0.45" stroke-linejoin="round"/>
<polygon points="354.90,660.30 359.70,656.60 369.20,656.60 364.40,660.30" fill="#ffffff" stroke="#9c9c9c" stroke-width="0.45" stroke-linejoin="round"/>
<rect x="354.90" y="660.30" width="9.50" height="295.10" fill="#ffffff" stroke="#9c9c9c" stroke-width="0.45"/>
<polygon points="378.35,660.30 383.15,656.60 383.15,951.70 378.35,955.40" fill="#b23b3b" stroke="#a85050" stroke-width="0.35" stroke-linejoin="round"/>
<polygon points="368.85,660.30 373.65,656.60 383.15,656.60 378.35,660.30" fill="#b23b3b" stroke="#a85050" stroke-width="0.35" stroke-linejoin="round"/>
<rect x="368.85" y="660.30" width="9.50" height="295.10" fill="#ff5555" stroke="#a85050" stroke-width="0.35"/>
<polygon points="404.00,885.30 408.80,881.60 408.80,951.70 404.00,955.40" fill="#0000f0" stroke="#5a5aff" stroke-width="0.45" stroke-linejoin="round"/>
<polygon points="394.50,885.30 399.30,881.60 408.80,881.60 404.00,885.30" fill="#0000f4" stroke="#5a5aff" stroke-width="0.45" stroke-linejoin="round"/>
<rect x="394.50" y="885.30" width="9.50" height="70.10" fill="#0000ff" stroke="#5a5aff" stroke-width="0.45"/>
<polygon points="409.25,955.40 413.45,951.90 422.75,951.90 417.95,955.40" fill="#00f000"/>
<polygon points="431.90,660.30 436.70,656.60 436.70,951.70 431.90,955.40" fill="#ffffff" stroke="#9c9c9c" stroke-width="0.45" stroke-linejoin="round"/>
<polygon points="422.40,660.30 427.20,656.60 436.70,656.60 431.90,660.30" fill="#ffffff" stroke="#9c9c9c" stroke-width="0.45" stroke-linejoin="round"/>
<rect x="422.40" y="660.30" width="9.50" height="295.10" fill="#ffffff" stroke="#9c9c9c" stroke-width="0.45"/>
<polygon points="445.85,660.30 450.65,656.60 450.65,951.70 445.85,955.40" fill="#b23b3b" stroke="#a85050" stroke-width="0.35" stroke-linejoin="round"/>
<polygon points="436.35,660.30 441.15,656.60 450.65,656.60 445.85,660.30" fill="#b23b3b" stroke="#a85050" stroke-width="0.35" stroke-linejoin="round"/>
<rect x="436.35" y="660.30" width="9.50" height="295.10" fill="#ff5555" stroke="#a85050" stroke-width="0.35"/>
<polygon points="471.50,824.80 476.30,821.10 476.30,951.70 471.50,955.40" fill="#0000f0" stroke="#5a5aff" stroke-width="0.45" stroke-linejoin="round"/>
<polygon points="462.00,824.80 466.80,821.10 476.30,821.10 471.50,824.80" fill="#0000f4" stroke="#5a5aff" stroke-width="0.45" stroke-linejoin="round"/>
<rect x="462.00" y="824.80" width="9.50" height="130.60" fill="#0000ff" stroke="#5a5aff" stroke-width="0.45"/>
<polygon points="476.75,955.40 480.95,951.90 490.25,951.90 485.45,955.40" fill="#00f000"/>
<polygon points="499.40,660.30 504.20,656.60 504.20,951.70 499.40,955.40" fill="#ffffff" stroke="#9c9c9c" stroke-width="0.45" stroke-linejoin="round"/>
<polygon points="489.90,660.30 494.70,656.60 504.20,656.60 499.40,660.30" fill="#ffffff" stroke="#9c9c9c" stroke-width="0.45" stroke-linejoin="round"/>
<rect x="489.90" y="660.30" width="9.50" height="295.10" fill="#ffffff" stroke="#9c9c9c" stroke-width="0.45"/>
<polygon points="513.35,660.30 518.15,656.60 518.15,951.70 513.35,955.40" fill="#b23b3b" stroke="#a85050" stroke-width="0.35" stroke-linejoin="round"/>
<polygon points="503.85,660.30 508.65,656.60 518.15,656.60 513.35,660.30" fill="#b23b3b" stroke="#a85050" stroke-width="0.35" stroke-linejoin="round"/>
<rect x="503.85" y="660.30" width="9.50" height="295.10" fill="#ff5555" stroke="#a85050" stroke-width="0.35"/>
<polygon points="539.00,784.00 543.80,780.30 543.80,951.70 539.00,955.40" fill="#0000f0" stroke="#5a5aff" stroke-width="0.45" stroke-linejoin="round"/>
<polygon points="529.50,784.00 534.30,780.30 543.80,780.30 539.00,784.00" fill="#0000f4" stroke="#5a5aff" stroke-width="0.45" stroke-linejoin="round"/>
<rect x="529.50" y="784.00" width="9.50" height="171.40" fill="#0000ff" stroke="#5a5aff" stroke-width="0.45"/>
<polygon points="544.25,955.40 548.45,951.90 557.75,951.90 552.95,955.40" fill="#00f000"/>
<polygon points="566.90,660.30 571.70,656.60 571.70,951.70 566.90,955.40" fill="#ffffff" stroke="#9c9c9c" stroke-width="0.45" stroke-linejoin="round"/>
<polygon points="557.40,660.30 562.20,656.60 571.70,656.60 566.90,660.30" fill="#ffffff" stroke="#9c9c9c" stroke-width="0.45" stroke-linejoin="round"/>
<rect x="557.40" y="660.30" width="9.50" height="295.10" fill="#ffffff" stroke="#9c9c9c" stroke-width="0.45"/>
<polygon points="580.85,660.30 585.65,656.60 585.65,951.70 580.85,955.40" fill="#b23b3b" stroke="#a85050" stroke-width="0.35" stroke-linejoin="round"/>
<polygon points="571.35,660.30 576.15,656.60 585.65,656.60 580.85,660.30" fill="#b23b3b" stroke="#a85050" stroke-width="0.35" stroke-linejoin="round"/>
<rect x="571.35" y="660.30" width="9.50" height="295.10" fill="#ff5555" stroke="#a85050" stroke-width="0.35"/>
<polygon points="606.50,861.50 611.30,857.80 611.30,951.70 606.50,955.40" fill="#0000f0" stroke="#5a5aff" stroke-width="0.45" stroke-linejoin="round"/>
<polygon points="597.00,861.50 601.80,857.80 611.30,857.80 606.50,861.50" fill="#0000f4" stroke="#5a5aff" stroke-width="0.45" stroke-linejoin="round"/>
<rect x="597.00" y="861.50" width="9.50" height="93.90" fill="#0000ff" stroke="#5a5aff" stroke-width="0.45"/>
<polygon points="611.75,955.40 615.95,951.90 625.25,951.90 620.45,955.40" fill="#00f000"/>
<polygon points="634.40,660.30 639.20,656.60 639.20,951.70 634.40,955.40" fill="#ffffff" stroke="#9c9c9c" stroke-width="0.45" stroke-linejoin="round"/>
<polygon points="624.90,660.30 629.70,656.60 639.20,656.60 634.40,660.30" fill="#ffffff" stroke="#9c9c9c" stroke-width="0.45" stroke-linejoin="round"/>
<rect x="624.90" y="660.30" width="9.50" height="295.10" fill="#ffffff" stroke="#9c9c9c" stroke-width="0.45"/>
<polygon points="648.35,660.30 653.15,656.60 653.15,951.70 648.35,955.40" fill="#b23b3b" stroke="#a85050" stroke-width="0.35" stroke-linejoin="round"/>
<polygon points="638.85,660.30 643.65,656.60 653.15,656.60 648.35,660.30" fill="#b23b3b" stroke="#a85050" stroke-width="0.35" stroke-linejoin="round"/>
<rect x="638.85" y="660.30" width="9.50" height="295.10" fill="#ff5555" stroke="#a85050" stroke-width="0.35"/>
<line x1="24.9" y1="955.60" x2="681.6" y2="955.60" stroke="#8c8c8c" stroke-width="0.7"/>
<line x1="24.9" y1="957.60" x2="686.4" y2="957.60" stroke="#b8b8b8" stroke-width="0.7"/>
<line x1="82.40" y1="957.6" x2="82.40" y2="959.0" stroke="#9a9a9a" stroke-width="0.5"/>
<text class="sa" x="82.40" y="965.4" font-size="5.6" text-anchor="middle">Eccentricity</text>
<line x1="150.56" y1="957.6" x2="150.56" y2="959.0" stroke="#9a9a9a" stroke-width="0.5"/>
<text class="sa" x="150.56" y="965.4" font-size="5.6" text-anchor="middle">Closeness</text>
<line x1="218.72" y1="957.6" x2="218.72" y2="959.0" stroke="#9a9a9a" stroke-width="0.5"/>
<text class="sa" x="218.72" y="965.4" font-size="5.6" text-anchor="middle">Radiality</text>
<line x1="286.88" y1="957.6" x2="286.88" y2="959.0" stroke="#9a9a9a" stroke-width="0.5"/>
<text class="sa" x="286.88" y="965.4" font-size="5.6" text-anchor="middle">Betweenness</text>
<line x1="355.04" y1="957.6" x2="355.04" y2="959.0" stroke="#9a9a9a" stroke-width="0.5"/>
<text class="sa" x="355.04" y="965.4" font-size="5.6" text-anchor="middle">Degree</text>
<line x1="423.20" y1="957.6" x2="423.20" y2="959.0" stroke="#9a9a9a" stroke-width="0.5"/>
<text class="sa" x="423.20" y="965.4" font-size="5.6" text-anchor="middle">Stress</text>
<line x1="491.36" y1="957.6" x2="491.36" y2="959.0" stroke="#9a9a9a" stroke-width="0.5"/>
<text class="sa" x="491.36" y="965.4" font-size="5.6" text-anchor="middle">Centroid</text>
<line x1="559.52" y1="957.6" x2="559.52" y2="959.0" stroke="#9a9a9a" stroke-width="0.5"/>
<text class="sa" x="559.52" y="965.4" font-size="5.6" text-anchor="middle">EigenVector</text>
<line x1="627.68" y1="957.6" x2="627.68" y2="959.0" stroke="#9a9a9a" stroke-width="0.5"/>
<text class="sa" x="627.68" y="965.4" font-size="5.6" text-anchor="middle">Bridging</text>
<text x="343.4" y="636" font-family='"Liberation Sans", sans-serif' font-weight="bold" font-size="9.5" text-anchor="middle" fill="#111" stroke="#111" stroke-width="0.3">MTOR</text>
<text x="354.8" y="976" font-family='"Liberation Sans", sans-serif' font-weight="bold" font-size="6.45" text-anchor="middle" fill="#222">centrality statistics for MTOR</text>
<text transform="translate(6.6 799.2) rotate(-90)" font-family='"Liberation Sans", sans-serif' font-weight="bold" font-size="6.3" letter-spacing="0.2" text-anchor="middle" fill="#222">Percentage</text>
<rect x="257" y="981.1" width="172" height="8.4" fill="#fff" stroke="#555" stroke-width="0.6"/>
<rect x="259.7" y="983.4" width="3.3" height="3.3" fill="#0000c8"/>
<text class="sa" x="264.0" y="987.4" font-size="5.5">average value</text>
<rect x="301.9" y="983.4" width="3.3" height="3.3" fill="#00b400"/>
<text class="sa" x="306.2" y="987.4" font-size="5.5">min value</text>
<rect x="332.9" y="983.4" width="3.3" height="3.3" fill="#b0b090"/>
<text class="sa" x="337.2" y="987.4" font-size="5.5">max value</text>
<rect x="365.5" y="983.4" width="3.3" height="3.3" fill="#e04848"/>
<text class="sa" x="369.8" y="987.4" font-size="5.5">MTOR centrality values</text>
</g>
</svg></body></html>
